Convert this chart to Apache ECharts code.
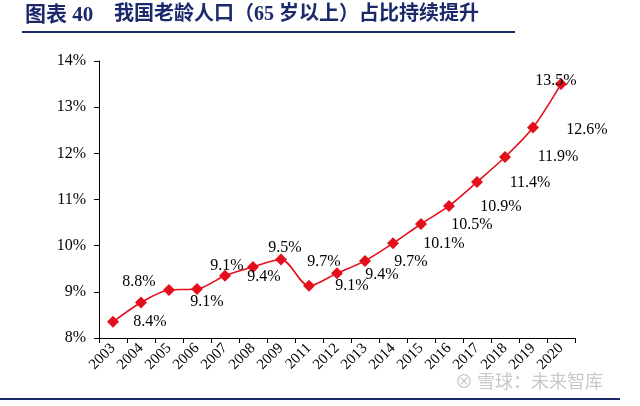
<!DOCTYPE html>
<html><head><meta charset="utf-8">
<script src="https://cdn.jsdelivr.net/npm/echarts@6/dist/echarts.min.js"></script>
<style>html,body{margin:0;padding:0;background:#fff}#c{width:640px;height:406px}</style>
</head><body><div id="c"></div>
<script>
const years = ['2003','2004','2005','2006','2007','2008','2009','2011','2012','2013','2014','2015','2016','2017','2018','2019','2020'];
const shares = [8.35,8.77,9.04,9.06,9.35,9.54,9.70,9.13,9.40,9.67,10.05,10.47,10.86,11.38,11.92,12.56,13.50];
const labelTexts = ['8.4%','8.8%','9.1%','9.1%','9.4%','9.5%','9.7%','9.1%','9.4%','9.7%','10.1%','10.5%','10.9%','11.4%','11.9%','12.6%','13.5%'];
const yTicks = [8,9,10,11,12,13,14];
// label placement (style only)
const labelOffsets = [[37,0],[-2,-21],[38,12],[30,-23],[39,1],[32,-19],[43,2],[43,0],[45,1],[46,1],[51,0],[51,1],[52,1],[53,1],[53,0],[54,2],[-5,-3]];

const chart = echarts.init(document.getElementById('c'));
const serif = '"Liberation Serif","Times New Roman",serif';
const titleFont = 'bold 20px "Liberation Serif","Noto Sans CJK SC",serif';
chart.setOption({
  animation:false,
  grid:{left:99,right:65,top:61,bottom:68},
  xAxis:{type:'category',data:years,boundaryGap:true,
    axisLine:{lineStyle:{color:'#000',width:1}},
    axisTick:{show:true,length:5,lineStyle:{color:'#000'},alignWithLabel:false},
    axisLabel:{rotate:45,margin:8,color:'#000',fontFamily:serif,fontSize:15,interval:0}},
  yAxis:{type:'value',min:yTicks[0],max:yTicks[yTicks.length-1],interval:1,
    axisLine:{show:true,lineStyle:{color:'#000',width:1}},
    axisTick:{show:true,length:5,inside:false,lineStyle:{color:'#000'}},
    splitLine:{show:false},
    axisLabel:{formatter:'{value}%',color:'#000',fontFamily:serif,fontSize:16,margin:13}},
  series:[{type:'line',smooth:0.3,
    data:shares.map((v,i)=>({value:v,label:{show:true,position:'inside',offset:labelOffsets[i],formatter:labelTexts[i]}})),
    symbol:'diamond',symbolSize:12,
    lineStyle:{color:'#e3101c',width:1.6},
    itemStyle:{color:'#e3101c'},
    label:{color:'#000',fontFamily:serif,fontSize:16}
  }],
  graphic:[
    {type:'text',left:25,top:5,style:{text:'图表 40',fill:'#1c2a6b',font:'bold 21px "Liberation Serif","Noto Sans CJK SC",serif'}},
    {type:'text',left:114,top:5,style:{text:'我国老龄人口（65 岁以上）占比持续提升',fill:'#1c2a6b',font:titleFont}},
    {type:'rect',shape:{x:22,y:31,width:493,height:2},style:{fill:'#1c2a6b'}},
    {type:'rect',shape:{x:0,y:398,width:620,height:2},style:{fill:'#1c2a6b'}},
    {type:'text',left:455,top:372,style:{text:'⊗ 雪球：未来智库',fill:'#c8c8c8',font:'18px "Noto Sans CJK SC",sans-serif'}}
  ]
});
</script></body></html>
